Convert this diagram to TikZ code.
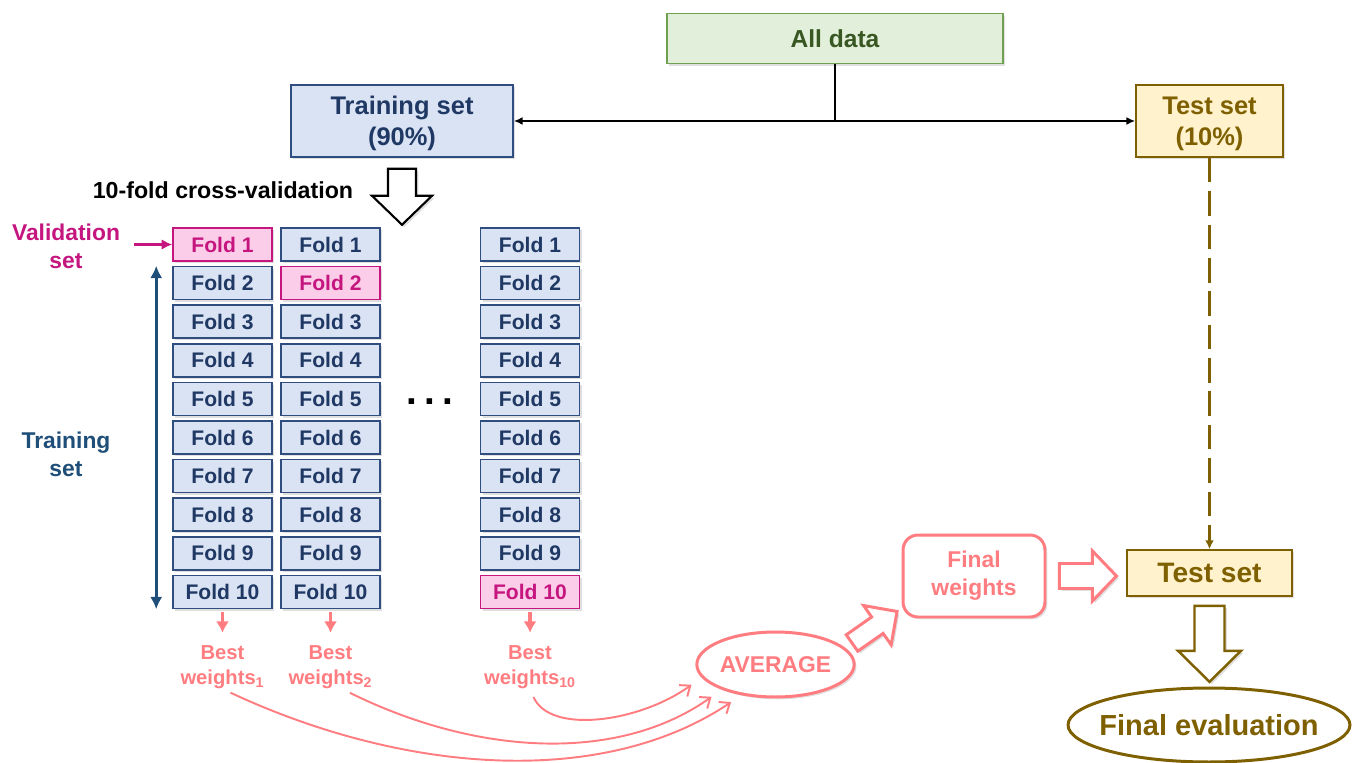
\documentclass[tikz,border=0pt]{standalone}
\usepackage{fontspec}
\setmainfont{Liberation Sans}
\usepackage{tikz}
\usetikzlibrary{shapes.geometric,shadows,arrows.meta}

\definecolor{datagreen}{HTML}{E2EFDA}
\definecolor{datagreenline}{HTML}{70A050}
\definecolor{datagreentext}{HTML}{385723}
\definecolor{foldblue}{HTML}{DAE3F3}
\definecolor{foldblueline}{HTML}{2F4D7E}
\definecolor{foldbluetext}{HTML}{1F3864}
\definecolor{valpink}{HTML}{FBCDE8}
\definecolor{valmagenta}{HTML}{C5157F}
\definecolor{trainblue}{HTML}{1F4E79}
\definecolor{salmon}{HTML}{FF7C80}
\definecolor{testyellow}{HTML}{FFF2CC}
\definecolor{testbrown}{HTML}{7F6000}

\tikzset{
  shadowed/.style={drop shadow={shadow xshift=1.3pt,shadow yshift=-1.3pt,opacity=0.25}},
  box/.style={draw, inner sep=0pt, align=center, shadowed},
  fold/.style={box, line width=0.9pt, fill=foldblue, draw=foldblueline, text=foldbluetext,
    minimum width=1.98cm, minimum height=0.66cm, font=\bfseries\fontsize{12}{14}\selectfont},
  valfold/.style={fold, fill=valpink, draw=valmagenta, text=valmagenta},
  setbox/.style={box, line width=0.9pt, minimum height=1.44cm, text depth=0pt,
    font=\bfseries\fontsize{14.5}{17.6}\selectfont},
  % block arrow: length / half shaft / half head / head length
  pics/hollowarr/.style args={#1/#2/#3/#4}{code={
    \filldraw[fill=white, shadowed] (0,-#2) -- ({#1-#4},-#2) -- ({#1-#4},-#3) -- (#1,0)
      -- ({#1-#4},#3) -- ({#1-#4},#2) -- (0,#2) -- cycle;
  }},
  label/.style={align=center, inner sep=0pt},
  conn/.style={line width=1.1pt, -{Latex[length=5pt,width=4.5pt]}},
  smallarr/.style={salmon, line width=1.8pt, -{Latex[length=6.5pt,width=7.5pt]},
    shorten <=1.5pt, shorten >=7pt},
  wcurve/.style={salmon, line width=1.1pt, -{Straight Barb[length=5pt,width=8pt]},
    shorten <=5pt, shorten >=7pt}
}

\begin{document}
\begin{tikzpicture}[x=0.02cm, y=-0.02cm]
  \useasboundingbox (0,0) rectangle (1359,763);

  % Data split
  \node[box, line width=0.9pt, fill=datagreen, draw=datagreenline, text=datagreentext,
    minimum width=6.72cm, minimum height=1cm,
    font=\bfseries\fontsize{14}{17}\selectfont] (all) at (835,38.5) {All data};
  \node[setbox, fill=foldblue, draw=foldblueline, text=foldbluetext,
    minimum width=4.44cm] (train) at (402,121) {Training set\\(90\%)};
  \node[setbox, fill=testyellow, draw=testbrown, text=testbrown,
    minimum width=2.94cm] (test) at (1209.5,121) {Test set\\(10\%)};

  \coordinate (split) at (all.south |- train.east);
  \draw[line width=1.1pt] (all.south) -- (split);
  \draw[conn] (split) -- (train.east);
  \draw[conn] (split) -- (test.west);

  % Cross-validation folds
  \node[label, font=\bfseries\fontsize{13.2}{16}\selectfont] (cvlabel) at (223,190)
    {10-fold cross-validation};
  \pic[line width=1.2pt, rotate=-90] (cvarrow) at ([yshift=-0.22cm]train.south)
    {hollowarr=56/14/30/29};

  \foreach \c/\x/\v in {1/222.5/1, 2/330.5/2, 3/530/10}{
    \foreach \r in {1,...,10}{
      \ifnum\r=\v \def\kind{valfold}\else\def\kind{fold}\fi
      \node[\kind] (f\c-\r) at (\x,{244.5+(\r-1)*38.6}) {Fold \r};
    }
  }
  \node[label, font=\bfseries\fontsize{22}{22}\selectfont] (dots) at (430,402)
    {.\hspace{4pt}.\hspace{4pt}.};

  % Validation / training labels
  \node[label, text=valmagenta, font=\bfseries\fontsize{13}{16}\selectfont] (val) at (66,246)
    {Validation\\set};
  \draw[valmagenta, line width=1.7pt, -{Latex[length=6pt,width=6pt]}, shorten <=8pt]
    (val.east |- f1-1.west) -- (f1-1.west);

  \node[label, text=trainblue, font=\bfseries\fontsize{13}{16}\selectfont] (trlabel) at (66,454)
    {Training\\set};
  \coordinate (trtop) at ([xshift=-0.32cm]f1-2.north west);
  \coordinate (trbot) at ([xshift=-0.32cm]f1-10.south west);
  \draw[trainblue, line width=1.9pt, {Latex[length=7pt,width=7pt]}-{Latex[length=7pt,width=7pt]}]
    (trtop) -- (trbot);

  % Best weights of each run
  \foreach \c/\n in {1/1, 2/2, 3/10}{
    \node[label, text=salmon, font=\bfseries\fontsize{11.5}{14.2}\selectfont] (bw\c)
      at (f\c-10.south |- 0,667) {Best\\weights\textsubscript{\n}};
    \draw[smallarr] (f\c-10.south) -- (bw\c.north);
  }

  % Averaging
  \node[ellipse, draw=salmon, line width=1.7pt, fill=white, inner sep=0pt, text=salmon,
    minimum width=3.14cm, minimum height=1.3cm, shadowed,
    font=\bfseries\fontsize{13}{16}\selectfont] (avg) at (775.5,664.5) {AVERAGE};
  \draw[wcurve] (bw1.south) .. controls (400,772) and (600,790) .. (avg.222);
  \draw[wcurve] ([xshift=0.23cm]bw2.south) .. controls (480,757) and (620,762) .. (avg.205);
  \draw[wcurve] (bw3.south) .. controls (550,735) and (640,722) .. (avg.190);

  \node[box, rounded corners=0.3cm, draw=salmon, line width=1.7pt, fill=white, text=salmon,
    minimum width=2.84cm, minimum height=1.64cm,
    font=\bfseries\fontsize{13}{16}\selectfont] (fw) at (974,576) {Final\\weights};
  \pic[color=salmon, line width=1.7pt, rotate=35] (avgarrow) at (852,643)
    {hollowarr=55/10/24/24};

  % Final test
  \node[box, line width=0.9pt, fill=testyellow, draw=testbrown, text=testbrown,
    minimum width=3.3cm, minimum height=0.92cm,
    font=\bfseries\fontsize{16}{19}\selectfont] (testb) at (1209.5,573) {Test set};
  \pic[color=salmon, line width=1.7pt] (fwarrow) at ([xshift=0.26cm]fw.east)
    {hollowarr=57/12.5/25/24};
  \draw[testbrown, line width=1.4pt, dash pattern=on 14pt off 5pt,
    -{Latex[length=5pt,width=5pt]}] (test.south) -- (testb.north);

  \pic[color=testbrown, line width=1.4pt, rotate=-90] (evalarrow) at ([yshift=-0.18cm]testb.south)
    {hollowarr=76/15/31.5/31};
  \node[ellipse, draw=testbrown, line width=1.7pt, fill=white, inner ysep=0pt, inner xsep=-6pt,
    text=testbrown, minimum width=5.64cm, minimum height=1.48cm,
    font=\bfseries\fontsize{16.5}{20}\selectfont] (eval) at (1209,725) {Final evaluation};
\end{tikzpicture}
\end{document}
